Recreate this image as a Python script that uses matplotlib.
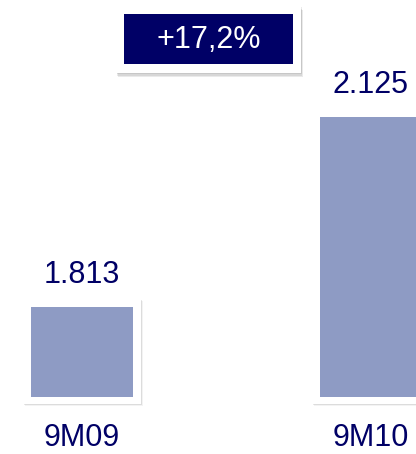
import matplotlib
matplotlib.use('Agg')
import matplotlib.pyplot as plt
from matplotlib import patches
from matplotlib import patheffects as pe

periods = ['9M09', '9M10']
values = [1813, 2125]
value_labels = ['1.813', '2.125']

W, H, DPI = 416, 454, 100
NAVY = '#000066'
BAR = '#8e9bc4'

plt.rcParams['font.family'] = ['Liberation Sans', 'DejaVu Sans']


def soft_shadow(dx, dy, strength=0.12):
    # stack a few faint offset shadows to fake a blur
    fx = [pe.SimplePatchShadow(offset=(dx * k / 3, dy * k / 3), shadow_rgbFace='#555555',
                               alpha=strength) for k in (3, 2, 1)]
    return fx + [pe.Normal()]


fig = plt.figure(figsize=(W / DPI, H / DPI), dpi=DPI)
base_px = 57                      # bar baseline, pixels from figure bottom
ax = fig.add_axes([0, base_px / H, 1, (H - base_px) / H])
ax.set_ylim(1665, 1665 + (H - base_px) / 0.6087)
ax.set_xlim(-0.284, 1.156)
ax.axis('off')

# pixel -> data unit helpers
px_x = (1.156 + 0.284) / W
px_y = (ax.get_ylim()[1] - ax.get_ylim()[0]) / (H - base_px)
ymin = ax.get_ylim()[0]
xs = range(len(values))
width = 102 * px_x
pad = 8

for x, v in zip(xs, values):
    frame = ax.bar(x, v - ymin + (pad + 7) * px_y, bottom=ymin - 7 * px_y,
                   width=width + 2 * pad * px_x, color='white', clip_on=False, zorder=1)
    for p in frame:
        p.set_path_effects(soft_shadow(1.5, -1.5, 0.07))
ax.bar(xs, [v - ymin for v in values], bottom=ymin, width=width, color=BAR, zorder=2)

for x, v, lab in zip(xs, values, value_labels):
    ax.annotate(lab, (x, v), xytext=(0, 17 * 72 / DPI), textcoords='offset points',
                ha='center', va='bottom', fontsize=22, color=NAVY)
    ax.annotate(periods[x], (x, ymin), xytext=(0, -41 * 72 / DPI), textcoords='offset points',
                ha='center', va='center', fontsize=22, color=NAVY, annotation_clip=False)

# growth badge
growth = (values[1] / values[0] - 1) * 100
outer = patches.Rectangle((116 / W, 1 - 73 / H), 185 / W, 67 / H, transform=fig.transFigure,
                          fc='white', ec='none', path_effects=soft_shadow(1.5, -3, 0.12))
inner = patches.Rectangle((124 / W, 1 - 64 / H), 169 / W, 50 / H, transform=fig.transFigure,
                          fc=NAVY, ec='none')
fig.patches.extend([outer, inner])
fig.text(208.5 / W, 1 - 40 / H, '+{:.1f}%'.format(growth).replace('.', ','),
         ha='center', va='center', fontsize=22, color='white')

fig.savefig('out.png', dpi=DPI, facecolor='white')
